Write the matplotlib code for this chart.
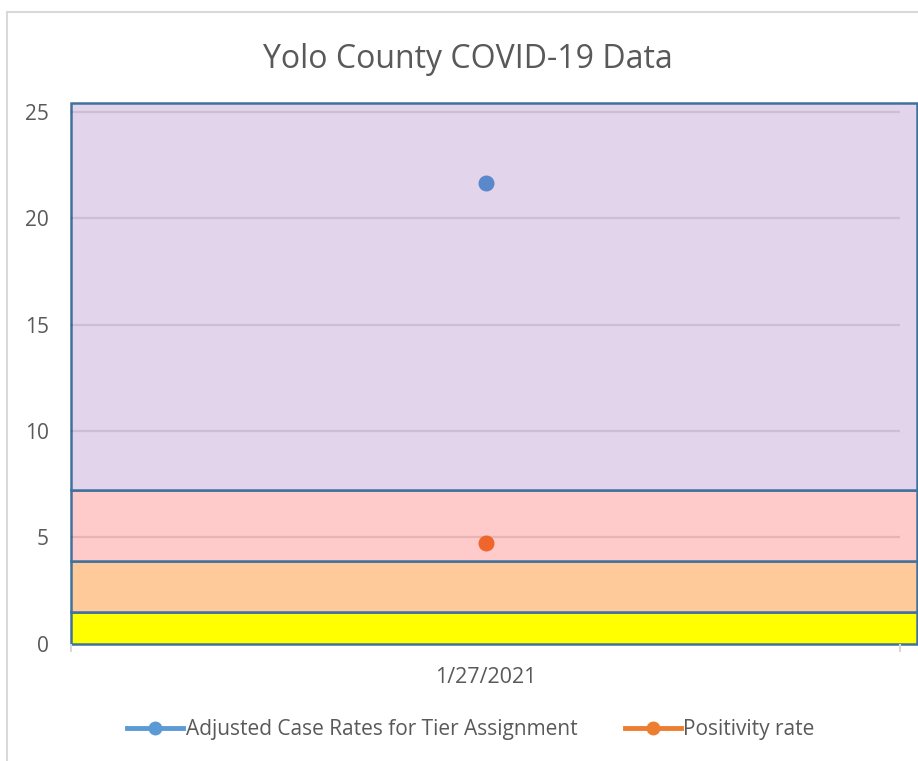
import matplotlib.pyplot as plt
from matplotlib.lines import Line2D

plt.rcParams['font.family'] = ['Open Sans', 'DejaVu Sans']

# data
dates = ['1/27/2021']
case_rate = [21.66]
positivity = [4.72]

# tier bands (stacked tops)
band_tops = [1.5, 3.9, 7.2, 25.45]
band_colors = ['#FFFF00', '#FFCA99', '#FFCACA', '#E2D5EB']
yticks = [0, 5, 10, 15, 20, 25]

txt = '#595959'

fig = plt.figure(figsize=(9.18, 7.61), dpi=100)
ax = fig.add_axes([71/918, 1 - 643.5/761, 829/918, 541/761])

# bands, drawn a bit past the category axis like the excel chart
bottom = 0
for top, col in zip(band_tops, band_colors):
    ax.bar(-0.5, top - bottom, bottom=bottom, width=1.0205, align='edge',
           color=col, edgecolor='#41719C', linewidth=1.8, clip_on=False, zorder=1)
    bottom = top

# gridlines on top of the bands
for t in yticks[1:]:
    ax.axhline(t, color='black', alpha=0.1, linewidth=1.6, zorder=2)

ax.plot(range(len(dates)), case_rate, 'o', color='#5B87CB', markersize=10.5, zorder=3)
ax.plot(range(len(dates)), positivity, 'o', color='#F0652B', markersize=10.5, zorder=3)

ax.set_xlim(-0.5, 0.5)
ax.set_ylim(0, band_tops[-1])
ax.set_yticks(yticks)
ax.set_xticks(range(len(dates)))
ax.set_xticklabels(dates)
ax.set_xticks([-0.5, 0.5], minor=True)
ax.tick_params(axis='y', length=0, pad=16, labelsize=15, labelcolor=txt)
ax.tick_params(axis='x', which='major', length=0, pad=17, labelsize=15.5, labelcolor=txt)
ax.tick_params(axis='x', which='minor', length=6, width=1.5, color='#D9D9D9')
for s in ax.spines.values():
    s.set_visible(False)

fig.text(468/918, 1 - 60/761, 'Yolo County COVID-19 Data', ha='center', va='center',
         fontsize=23, color=txt)

handles = [
    Line2D([], [], color='#5B9BD5', linewidth=3.5, marker='o', markersize=9),
    Line2D([], [], color='#ED7D31', linewidth=3.5, marker='o', markersize=9),
]
fig.legend(handles, ['Adjusted Case Rates for Tier Assignment', 'Positivity rate'],
           loc='center', bbox_to_anchor=(471/918, 1 - 730/761), ncol=2, frameon=False,
           fontsize=15, labelcolor=txt, handlelength=2.7, handletextpad=0.1,
           columnspacing=2.3)

# chart area border (left and top only visible)
fig.add_artist(Line2D([7/918, 7/918], [0, 1 - 12/761], color='#D9D9D9', linewidth=1.5))
fig.add_artist(Line2D([7/918, 1], [1 - 12/761, 1 - 12/761], color='#D9D9D9', linewidth=1.5))

fig.savefig('out.png', dpi=100)
